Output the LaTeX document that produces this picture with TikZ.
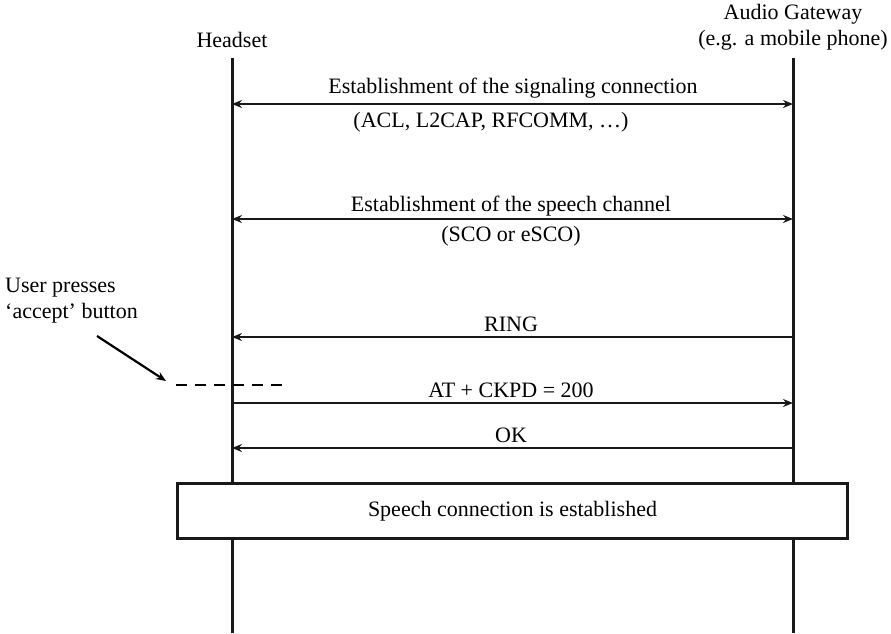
\documentclass[tikz,border=0pt]{standalone}
\usepackage{fontspec}
\setmainfont{Liberation Serif}
\usetikzlibrary{arrows.meta}
\begin{document}
\begin{tikzpicture}[x=1pt,y=-1pt,
  lbl/.style={font=\fontsize{22}{26}\selectfont, inner sep=0pt, align=center},
  life/.style={line width=3pt, color=black!90},
  msg/.style={line width=2pt, color=black!90, -{Stealth[length=10pt,width=8pt]}},
  dmsg/.style={line width=2pt, color=black!90, {Stealth[length=10pt,width=8pt]}-{Stealth[length=10pt,width=8pt]}}]
\useasboundingbox (0,0) rectangle (891,633);
% lifelines
\coordinate (hT) at (232,58); \coordinate (hB) at (232,633);
\coordinate (gT) at (793,58); \coordinate (gB) at (793,633);
\node[lbl] (hs) at (232,40) {Headset};
\node[lbl] (ag) at (793,27) {Audio Gateway\\(e.g. a mobile phone)};
\draw[life] (hT) -- (hB);
\draw[life] (gT) -- (gB);
% messages
\coordinate (h1) at (232,104); \coordinate (g1) at (793,104);
\draw[dmsg] (h1) -- (g1);
\node[lbl] (t1) at (513,88) {Establishment of the signaling connection};
\node[lbl] (t1b) at (491,122) {(ACL, L2CAP, RFCOMM, \ldots)};
\coordinate (h2) at (232,219); \coordinate (g2) at (793,219);
\draw[dmsg] (h2) -- (g2);
\node[lbl] (t2) at (511,206) {Establishment of the speech channel};
\node[lbl] (t2b) at (511,236) {(SCO or eSCO)};
\coordinate (h3) at (232,337); \coordinate (g3) at (793,337);
\draw[msg] (g3) -- (h3);
\node[lbl] (t3) at (511,324) {RING};
\coordinate (d1) at (176,385); \coordinate (d2) at (286,385);
\draw[line width=2.2pt, dash pattern=on 11pt off 8pt] (d1) -- (d2);
\coordinate (uA) at (97,336); \coordinate (uB) at (166,381);
\draw[line width=2.2pt, -{Stealth[length=10pt,width=8pt]}] (uA) -- (uB);
\node[lbl, align=left, anchor=west] (up) at (5,301) {User presses\\‘accept’ button};
\coordinate (h4) at (232,403); \coordinate (g4) at (793,403);
\draw[msg] (h4) -- (g4);
\node[lbl] (t4) at (511,390) {AT + CKPD = 200};
\coordinate (h5) at (232,448); \coordinate (g5) at (793,448);
\draw[msg] (g5) -- (h5);
\node[lbl] (t5) at (511,435) {OK};
% box
\node[draw, line width=2.4pt, color=black!90, text=black, fill=white, minimum width=670pt, minimum height=55pt, inner sep=0pt, font=\fontsize{22}{26}\selectfont] (box) at (512.5,511) {Speech connection is established};
\end{tikzpicture}
\end{document}
